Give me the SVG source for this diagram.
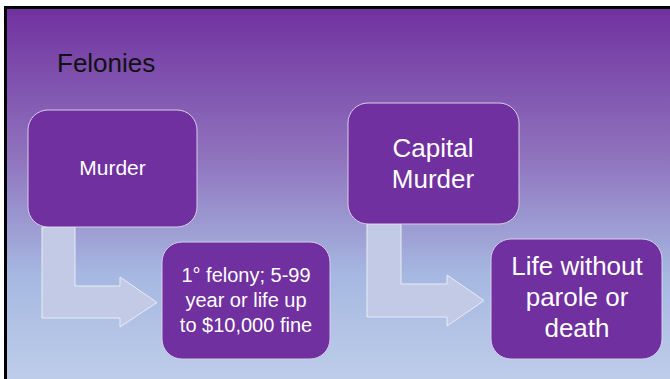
<svg xmlns="http://www.w3.org/2000/svg" width="670" height="379" viewBox="0 0 670 379">
  <defs>
    <linearGradient id="bg" x1="0" y1="0" x2="0" y2="1">
      <stop offset="0" stop-color="#7131a0"/>
      <stop offset="0.12" stop-color="#7a46a9"/>
      <stop offset="0.4" stop-color="#8f73bd"/>
      <stop offset="0.72" stop-color="#a6b8e1"/>
      <stop offset="1" stop-color="#bdcde9"/>
    </linearGradient>
    <style>
      .box { fill: #7030a0; stroke: #d8cde8; stroke-width: 1; }
      .lbl { font-family: "Liberation Sans", Arial, sans-serif; fill: #ffffff; text-anchor: middle; }
      .arrow { fill: #c2cae6; stroke: #e8ecf7; stroke-width: 1; }
      .title { font-family: "Liberation Sans", Arial, sans-serif; font-size: 26px; fill: #111111; }
    </style>
  </defs>
  <rect x="0" y="0" width="670" height="379" fill="#ffffff"/>
  <rect x="4" y="6" width="666" height="373" fill="#000000"/>
  <rect x="7" y="9" width="663" height="370" fill="url(#bg)"/>
  <text class="title" x="57" y="72">Felonies</text>
  <g id="connectors">
    <path class="arrow" d="M42,227 L75,227 L75,286 L120,286 L120,277 L157,302.5 L120,327 L120,318 L42,318 Z"/>
    <path class="arrow" d="M367,224 L401,224 L401,284 L447,284 L447,275 L484,300.5 L447,326 L447,317 L367,317 Z"/>
  </g>
  <g id="murder">
    <rect class="box" x="28" y="110" width="169" height="117" rx="20"/>
    <text class="lbl" x="112.5" y="175" font-size="21">Murder</text>
  </g>
  <g id="felony">
    <rect class="box" x="162" y="242" width="168" height="117" rx="20"/>
    <text class="lbl" x="246" y="282" font-size="20">1° felony; 5-99</text>
    <text class="lbl" x="246" y="307" font-size="20">year or life up</text>
    <text class="lbl" x="246" y="332" font-size="20">to $10,000 fine</text>
  </g>
  <g id="capital">
    <rect class="box" x="348" y="103" width="171" height="121" rx="20"/>
    <text class="lbl" x="433" y="157" font-size="26">Capital</text>
    <text class="lbl" x="433" y="188" font-size="26">Murder</text>
  </g>
  <g id="life">
    <rect class="box" x="491" y="239" width="171" height="120" rx="20"/>
    <text class="lbl" x="577" y="275" font-size="26">Life without</text>
    <text class="lbl" x="577" y="306" font-size="26">parole or</text>
    <text class="lbl" x="577" y="337" font-size="26">death</text>
  </g>
</svg>
